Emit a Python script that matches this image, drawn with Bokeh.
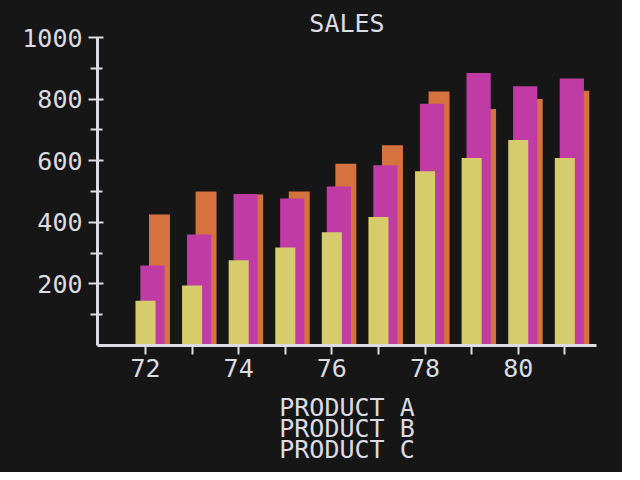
from bokeh.plotting import figure
from bokeh.models import FixedTicker, Range1d, ColumnDataSource
from bokeh.embed import file_html
from bokeh.resources import INLINE

years = [72, 73, 74, 75, 76, 77, 78, 79, 80, 81]
product_a = [425, 500, 490, 500, 590, 650, 825, 768, 800, 827]
product_b = [260, 360, 492, 477, 516, 585, 785, 885, 842, 867]
product_c = [145, 195, 277, 318, 368, 417, 566, 609, 667, 609]
series_names = ["PRODUCT A", "PRODUCT B", "PRODUCT C"]
title_text = "SALES"
x_label_years = [72, 74, 76, 78, 80]
x_minor_years = [73, 75, 77, 79, 81]
y_major = [200, 400, 600, 800, 1000]
y_minor = [100, 300, 500, 700, 900]

BG = "#161616"
FG = "#dcdce4"
FONT = "DejaVu Sans Mono"
FS = "25px"

p = figure(width=622, height=472, output_backend="svg", toolbar_location=None,
           x_range=Range1d(70.97, 81.68), y_range=Range1d(0, 1000),
           min_border_left=97, min_border_right=26, min_border_top=37,
           min_border_bottom=127, title=title_text)
p.background_fill_color = BG
p.border_fill_color = BG
p.outline_line_color = None
p.styles = {"background-color": BG}
p.grid.visible = False

p.title.align = "center"
p.title.text_color = FG
p.title.text_font = FONT
p.title.text_font_size = FS
p.title.text_font_style = "normal"
p.title.standoff = 0

src = ColumnDataSource(dict(
    xa=[y + 0.30 for y in years], xb=[y + 0.15 for y in years], xc=list(years),
    a=product_a, b=product_b, c=product_c))

p.vbar(x="xa", top="a", bottom=0, width=0.45, source=src,
       fill_color="#d5723e", line_color=None)
p.vbar(x="xb", top="b", bottom=0, width=0.52, source=src,
       fill_color="#c03ca4", line_color=None)
p.vbar(x="xc", top="c", bottom=0, width=0.43, source=src,
       fill_color="#d6cc6c", line_color=None)

# axes
xa = p.xaxis[0]
xa.ticker = FixedTicker(ticks=x_label_years, minor_ticks=x_minor_years)
xa.axis_line_color = FG
xa.axis_line_width = 3
xa.major_tick_line_color = FG
xa.major_tick_line_width = 2
xa.major_tick_out = 9
xa.major_tick_in = 0
xa.minor_tick_line_color = FG
xa.minor_tick_line_width = 2
xa.minor_tick_out = 9
xa.minor_tick_in = 0
xa.major_label_text_color = FG
xa.major_label_text_font = FONT
xa.major_label_text_font_size = FS
xa.major_label_standoff = 4
xa.axis_label = "\n".join(series_names)
xa.axis_label_text_color = FG
xa.axis_label_text_font = FONT
xa.axis_label_text_font_size = FS
xa.axis_label_text_font_style = "normal"
xa.axis_label_text_line_height = 0.74
xa.axis_label_standoff = 13

ya = p.yaxis[0]
ya.ticker = FixedTicker(ticks=y_major, minor_ticks=y_minor)
ya.axis_line_color = FG
ya.axis_line_width = 3
ya.major_tick_line_color = FG
ya.major_tick_line_width = 2
ya.major_tick_out = 9
ya.major_tick_in = 6
ya.minor_tick_line_color = FG
ya.minor_tick_line_width = 2
ya.minor_tick_out = 7
ya.minor_tick_in = 5
ya.major_label_text_color = FG
ya.major_label_text_font = FONT
ya.major_label_text_font_size = FS
ya.major_label_standoff = 6

open("out.html", "w").write(file_html(p, INLINE))
